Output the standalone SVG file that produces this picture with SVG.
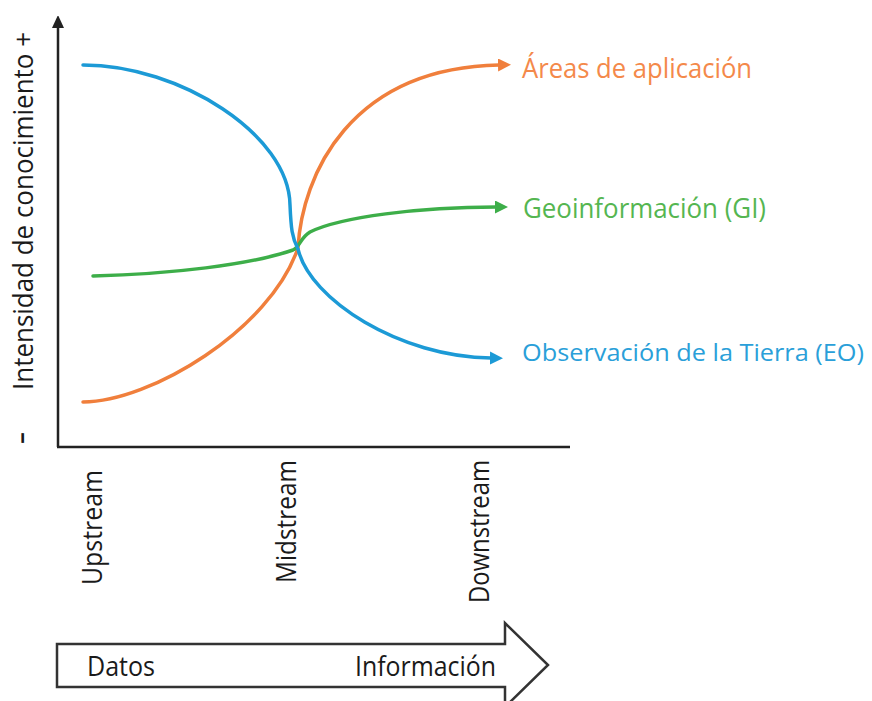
<svg xmlns="http://www.w3.org/2000/svg" width="872" height="701" viewBox="0 0 872 701">
<defs>
<style>
.t{font-family:"Open Sans","Noto Sans","Liberation Sans",sans-serif;font-size:27px;font-weight:500;}
.dark{fill:#1a1a1a;}
.axis{stroke:#222;stroke-width:2.5;fill:none;}
.curve{fill:none;stroke-width:3.5;stroke-linecap:round;}
.or{stroke:#F07F3C;}
.gr{stroke:#3DAE49;}
.bl{stroke:#1C9AD6;}
</style>
<marker id="mOr" markerUnits="userSpaceOnUse" markerWidth="14" markerHeight="14" refX="1" refY="6.5" orient="auto"><path d="M0,0 L13,6.5 L0,13 z" fill="#F07F3C"/></marker>
<marker id="mGr" markerUnits="userSpaceOnUse" markerWidth="14" markerHeight="14" refX="1" refY="6.5" orient="auto"><path d="M0,0 L13,6.5 L0,13 z" fill="#3DAE49"/></marker>
<marker id="mBl" markerUnits="userSpaceOnUse" markerWidth="14" markerHeight="14" refX="1" refY="6.5" orient="auto"><path d="M0,0 L13,6.5 L0,13 z" fill="#1C9AD6"/></marker>
<marker id="mAx" markerUnits="userSpaceOnUse" markerWidth="12" markerHeight="14" refX="1" refY="6" orient="auto"><path d="M0,0 L13,6 L0,12 z" fill="#222"/></marker>
</defs>
<rect width="872" height="701" fill="#fff"/>

<g id="axes">
<path class="axis" d="M58,447 L58,27" marker-end="url(#mAx)"/>
<path class="axis" d="M57,447 L570,447"/>
</g>

<g id="y-label">
<text class="t dark" transform="translate(33,390) rotate(-90)" textLength="358" lengthAdjust="spacingAndGlyphs">Intensidad de conocimiento  +</text>
<text class="t dark" transform="translate(28,444) rotate(-90)" style="font-size:22px;font-weight:bold" textLength="12" lengthAdjust="spacingAndGlyphs">-</text>
</g>

<g id="x-labels">
<text class="t dark" transform="translate(102,585) rotate(-90)" textLength="115" lengthAdjust="spacingAndGlyphs">Upstream</text>
<text class="t dark" transform="translate(296,583) rotate(-90)" textLength="123" lengthAdjust="spacingAndGlyphs">Midstream</text>
<text class="t dark" transform="translate(489,603) rotate(-90)" textLength="143" lengthAdjust="spacingAndGlyphs">Downstream</text>
</g>

<g id="connectors">
<path id="curve-areas" class="curve or" d="M83,402 C150,402 270,330 298,248 C302,175 350,68 499,65" marker-end="url(#mOr)"/>
<path id="curve-gi" class="curve gr" d="M93,276 C170,274 250,265 293,250 C300,247 300,238 310,232 C340,217 420,207 496,207" marker-end="url(#mGr)"/>
<path id="curve-eo" class="curve bl" d="M83,65 C180,65 289,135 290,205 C291,228 292,238 298,249 C310,300 400,357 491,358" marker-end="url(#mBl)"/>
</g>

<g id="label-areas"><text class="t" x="522" y="78" fill="#F4894A" textLength="230" lengthAdjust="spacingAndGlyphs">Áreas de aplicación</text></g>
<g id="label-gi"><text class="t" x="523" y="218" fill="#55B651" textLength="243" lengthAdjust="spacingAndGlyphs">Geoinformación (GI)</text></g>
<g id="label-eo"><text class="t" x="522" y="361" fill="#2A9FD9" style="font-size:24.5px" textLength="342" lengthAdjust="spacingAndGlyphs">Observación de la Tierra (EO)</text></g>

<g id="flow-arrow">
<polygon points="57,644 505,644 505,623 548,665 505,707 505,687 57,687" fill="#fff" stroke="#333" stroke-width="2.5" stroke-linejoin="miter"/>
<text class="t dark" x="87" y="676" textLength="68" lengthAdjust="spacingAndGlyphs">Datos</text>
<text class="t dark" x="355" y="676" textLength="141" lengthAdjust="spacingAndGlyphs">Información</text>
</g>
</svg>
